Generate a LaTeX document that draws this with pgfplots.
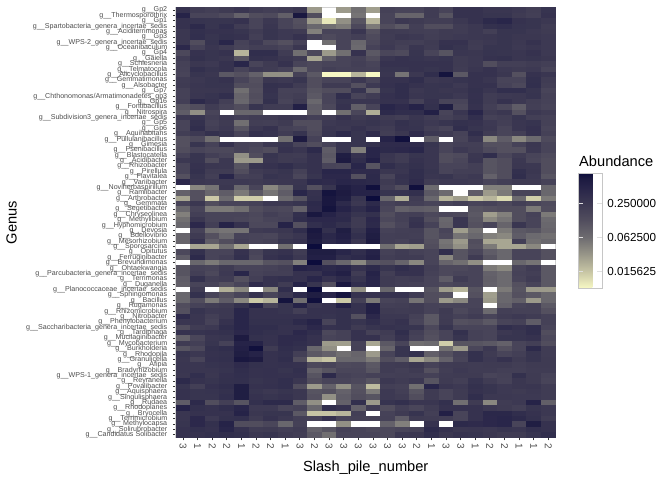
\documentclass[border=0pt]{standalone}
\usepackage{fontspec}
\setmainfont{Liberation Sans}
\usepackage{pgfplots}
\usepackage{pgfplotstable}
\pgfplotsset{compat=1.18}
\definecolor{axtext}{HTML}{4D4D4D}
\def\g{g\_\_}
\pgfdeclareplotmark{cell}{%
  \pgfpathrectangle{\pgfpoint{-7.4bp}{-2.78bp}}{\pgfpoint{14.8bp}{5.56bp}}\pgfusepathqfill}
% abundance x 1000, one row per genus, one column per sample; nan = empty tile
\pgfplotstableread[header=false]{
300 220 200 230 270 220 200 220 260 30 nan 30 60 28 190 170 170 220 170 300 300 270 270 240 210 290
500 170 170 140 80 130 140 85 700 130 nan nan 55 nan 170 75 75 220 110 300 300 280 280 230 200 300
300 290 280 280 300 170 250 170 120 30 10 35 110 20 170 250 230 210 210 250 300 400 450 300 280 250
300 400 280 340 220 170 270 170 130 70 60 50 150 50 130 100 200 130 130 220 250 320 340 290 280 220
260 330 300 300 280 220 280 240 230 45 170 170 270 120 230 220 210 200 230 220 250 200 280 280 250 230
260 340 280 320 300 200 280 240 300 180 140 170 200 140 220 260 240 210 230 240 250 260 280 260 260 240
260 130 290 450 180 240 150 120 180 nan 60 170 70 150 230 210 200 230 300 300 230 250 280 250 300 240
420 180 270 220 170 200 200 170 260 nan nan 170 65 180 240 190 270 220 320 280 220 280 280 240 270 240
150 300 280 300 20 350 350 220 60 150 30 60 300 100 160 140 280 170 110 270 260 290 280 270 300 240
220 320 280 260 110 320 300 260 230 25 90 170 190 130 270 300 290 270 290 230 250 300 320 270 280 260
190 260 240 300 450 170 230 300 170 150 170 170 200 170 300 300 300 300 300 230 250 130 200 200 220 200
180 330 280 300 170 240 220 180 70 150 200 180 190 180 280 280 300 280 300 220 270 300 240 230 240 170
170 280 260 100 120 80 35 35 190 100 8 8 20 8 270 55 250 350 750 100 300 300 260 120 300 270
220 250 280 300 170 120 260 240 280 130 170 170 250 170 300 300 350 250 270 290 300 270 170 170 330 220
230 270 280 280 130 130 320 300 220 130 230 230 120 240 310 350 300 280 290 240 300 300 180 150 340 210
190 260 260 270 60 120 300 180 180 110 130 130 290 80 280 350 250 280 260 270 320 270 340 340 280 170
190 270 290 340 75 130 290 190 210 100 170 350 170 220 310 350 270 280 280 240 310 220 240 250 290 190
200 400 300 200 70 120 320 170 230 70 170 280 270 270 300 300 190 300 170 170 320 220 300 250 210 180
110 130 220 170 130 280 220 220 550 90 150 300 85 170 450 380 500 320 600 150 300 200 150 90 200 170
90 35 170 nan 70 70 nan nan nan 85 nan 60 160 22 400 350 350 550 170 270 450 230 260 120 250 220
250 280 200 240 200 220 230 260 240 200 220 300 230 260 230 210 270 220 190 230 340 190 210 280 200 190
170 320 180 230 60 210 200 230 130 130 240 270 260 280 250 320 280 240 280 320 300 240 200 270 290 190
170 350 200 240 110 250 300 190 170 130 270 250 300 240 220 300 290 210 170 350 280 250 170 270 310 170
210 240 320 280 170 320 290 220 290 140 280 400 280 380 210 260 380 250 230 180 350 220 170 200 300 190
120 140 60 nan nan nan nan 60 650 180 nan nan 280 nan 500 800 nan 90 nan 170 270 40 90 40 65 140
120 280 180 300 180 170 260 280 170 130 180 280 280 320 380 380 380 280 170 200 200 120 120 180 260 170
130 170 150 150 180 150 130 300 270 400 90 280 45 450 400 420 450 270 170 240 210 140 120 120 250 170
180 280 200 170 35 130 280 230 220 300 100 600 300 450 270 220 280 270 130 140 260 350 160 220 170 140
250 280 130 250 30 30 270 230 240 300 90 650 350 550 260 220 300 270 130 160 270 110 130 250 160 130
170 300 260 250 110 280 300 350 280 300 170 160 450 110 350 280 320 270 170 170 200 110 130 260 250 130
170 320 220 220 130 220 250 280 190 300 450 450 380 380 260 270 350 280 170 200 200 110 130 330 260 130
120 280 200 450 190 200 290 270 160 280 420 420 120 400 170 300 350 270 280 220 240 80 130 350 240 110
420 260 240 240 240 230 250 260 270 400 380 450 430 400 230 290 380 220 240 240 230 170 200 230 230 180
nan 40 55 260 70 170 40 70 280 120 280 600 500 800 200 130 800 65 nan nan nan 45 45 nan nan 70
80 120 70 90 50 100 55 90 450 300 750 650 500 500 290 290 330 100 65 nan 90 30 50 170 170 70
25 120 15 65 14 14 nan 65 110 320 700 600 280 900 70 22 220 70 20 28 15 20 12 65 14 50
170 260 130 170 170 190 250 250 280 400 700 400 250 400 180 210 200 170 170 200 170 180 150 200 170 140
70 170 50 50 60 130 160 150 80 380 750 500 350 500 160 80 90 85 nan nan 110 120 130 130 50 130
45 200 170 170 170 150 200 170 330 700 500 380 280 320 130 190 200 150 160 150 100 28 45 130 180 50
60 260 170 170 160 140 170 180 350 420 420 400 230 420 150 190 280 130 70 270 110 40 55 130 170 65
70 420 200 500 300 150 150 500 120 340 400 320 230 400 120 170 300 180 75 270 120 170 75 270 170 70
nan 180 60 55 55 230 240 260 350 700 320 600 280 550 180 200 210 110 170 28 60 nan 50 100 110 75
75 230 120 70 180 170 160 230 270 650 430 550 330 600 200 210 200 110 150 55 70 45 40 90 65 60
75 300 90 130 200 170 190 280 300 600 400 500 270 650 200 180 220 120 55 30 130 25 25 200 60 70
nan 25 25 60 25 nan nan 60 nan 950 nan nan nan nan 60 25 28 130 60 35 120 50 25 25 40 nan
150 320 170 170 300 170 280 300 220 600 600 450 350 500 190 220 190 170 350 110 160 90 70 170 170 120
90 400 170 200 330 150 300 350 250 550 550 350 400 550 210 230 220 170 40 110 230 110 70 170 170 120
nan 70 50 70 70 70 110 120 45 950 120 70 40 110 120 75 40 170 75 60 35 nan nan 70 55 nan
110 180 170 230 170 170 180 210 500 450 400 450 300 400 280 350 300 200 150 150 170 50 40 170 220 100
110 200 150 240 450 180 200 200 300 300 450 550 220 500 210 300 300 190 150 170 170 80 65 180 200 100
90 320 200 220 120 200 300 330 300 450 300 400 280 450 230 210 220 170 90 220 170 85 65 170 220 100
85 170 170 120 170 380 300 220 500 280 120 700 350 450 230 200 190 170 150 170 170 80 65 120 170 100
nan 220 nan 22 40 nan 40 350 nan 900 nan nan 35 nan 70 nan nan 110 28 20 110 nan 50 110 30 30
70 320 170 120 170 300 170 250 400 600 450 750 300 300 300 300 230 130 120 nan 120 28 70 120 100 70
70 130 50 90 40 15 20 750 60 800 nan 15 190 50 170 190 55 130 30 40 170 30 70 85 30 70
130 180 210 230 320 500 170 280 500 270 300 550 300 550 200 210 230 180 170 170 170 nan 80 170 190 100
120 290 240 250 450 300 300 280 200 300 300 320 300 550 230 220 230 180 230 150 190 65 200 190 190 120
380 270 200 250 450 300 300 300 300 300 290 320 120 420 250 250 190 100 220 190 220 170 220 240 220 190
270 270 180 300 450 320 320 320 400 500 170 320 280 350 270 300 170 100 230 120 130 100 170 190 90 190
130 220 240 350 450 350 350 300 300 420 300 320 230 280 300 290 280 150 280 170 170 170 350 300 350 170
300 290 300 320 420 350 320 300 420 350 150 190 300 190 220 350 200 130 170 320 190 170 250 280 350 130
80 160 270 280 650 320 300 380 380 300 170 190 300 300 200 300 180 120 170 280 190 170 280 280 300 150
230 200 280 180 500 500 300 380 350 300 30 28 180 25 100 170 60 65 14 110 110 100 80 170 200 130
110 150 320 350 550 800 230 350 320 70 35 nan 190 nan 75 280 nan nan 60 30 160 250 120 170 400 220
280 250 300 320 600 500 300 330 200 100 80 60 75 30 170 280 320 85 120 180 320 230 170 200 280 220
260 170 310 330 700 650 300 350 130 20 16 70 70 50 130 90 25 40 80 170 320 240 300 230 280 230
270 270 290 300 380 320 300 310 300 150 170 140 150 100 220 230 260 180 220 230 220 230 230 210 230 230
270 270 270 290 350 300 310 280 330 80 110 160 160 110 220 200 230 120 210 240 220 220 200 200 220 220
260 340 260 310 340 300 310 300 310 110 400 190 170 190 200 210 200 190 220 230 230 170 190 320 230 180
400 300 280 320 330 280 300 340 260 130 170 170 150 110 250 220 250 110 230 200 290 220 180 260 230 170
280 200 310 350 600 300 310 340 130 30 80 35 110 18 200 190 60 450 270 240 320 280 240 260 270 220
300 280 290 320 600 280 250 280 260 110 120 80 120 50 240 200 110 230 170 230 300 280 240 230 250 220
300 280 280 340 600 300 280 300 260 120 35 90 130 110 240 220 130 230 170 230 350 250 250 240 240 220
90 400 130 200 110 330 400 400 90 35 nan 80 330 30 290 330 270 270 330 60 230 40 220 240 500 85
500 330 300 350 450 240 240 170 190 70 350 300 80 220 130 200 160 220 300 300 300 250 230 200 280 250
270 300 300 300 500 260 280 280 100 16 16 20 200 nan 180 230 290 200 550 170 300 430 430 350 300 250
270 420 240 320 330 230 300 250 200 190 300 170 190 190 190 90 230 220 210 170 300 420 450 400 320 220
280 420 320 500 130 130 160 70 190 nan nan 35 nan nan 80 45 nan 300 nan 400 380 420 450 170 600 300
300 330 300 450 300 220 230 200 220 80 110 190 170 150 150 170 180 400 300 260 270 250 280 270 330 300
300 300 330 350 330 260 280 230 210 100 60 170 170 170 150 250 260 350 260 300 290 260 230 230 290 350
}\abund
\begin{document}
\begin{tikzpicture}[x=1bp,y=1bp]
\useasboundingbox (0,0) rectangle (672,480);
\begin{axis}[
    at={(175.7bp,42.5bp)}, anchor=south west,
    scale only axis,
    width=380bp, height=430bp,
    xmin=-0.5, xmax=25.5, ymin=-0.5, ymax=79.5,
    y dir=reverse,
    axis on top,
    axis line style={draw=gray!35,line width=0.7bp},
    tick align=outside, tick pos=left,
    major tick length=2.8bp,
    tick style={draw=black!80,line width=1bp},
    xtick={0,...,25},
    xticklabels={3,1,2,2,1,2,2,1,3,2,3,3,3,3,3,3,2,1,3,3,1,2,2,1,1,2},
    xticklabel style={rotate=-90,anchor=west,inner sep=0pt,xshift=3bp,text=axtext,font=\fontsize{10}{10}\selectfont},
    ytick={0,...,79},
    yticklabels={\g Gp2,\g Thermosporothrix,\g Gp1,\g Spartobacteria\_genera\_incertae\_sedis,\g Aciditerrimonas,\g Gp3,\g WPS-2\_genera\_incertae\_sedis,\g Oceanibaculum,\g Gp4,\g Gaiella,\g Schlesneria,\g Telmatocola,\g Alicyclobacillus,\g Gemmatimonas,\g Alsobacter,\g Gp7,\g Chthonomonas/Armatimonadetes\_gp3,\g Gp16,\g Fontibacillus,\g Nitrospira,\g Subdivision3\_genera\_incertae\_sedis,\g Gp5,\g Gp6,\g Aquihabitans,\g Pullulanibacillus,\g Gimesia,\g Psenibacillus,\g Blastocatella,\g Acidibacter,\g Rhizobacter,\g Pirellula,\g Flavitalea,\g Variibacter,\g Noviherbaspirillum,\g Ramlibacter,\g Arthrobacter,\g Gemmata,\g Segetibacter,\g Chryseolinea,\g Methylibium,\g Hyphomicrobium,\g Devosia,\g Bdellovibrio,\g Mesorhizobium,\g Sporosarcina,\g Opitutus,\g Ferruginibacter,\g Brevundimonas,\g Ohtaekwangia,\g Parcubacteria\_genera\_incertae\_sedis,\g Terrimonas,\g Duganella,\g Planococcaceae\_incertae\_sedis,\g Sphingomonas,\g Bacillus,\g Rugamonas,\g Rhizomicrobium,\g Nitrobacter,\g Phenylobacterium,\g Saccharibacteria\_genera\_incertae\_sedis,\g Tardiphaga,\g Mucilaginibacter,\g Mycobacterium,\g Burkholderia,\g Rhodopila,\g Granulicella,\g Afipia,\g Bradyrhizobium,\g WPS-1\_genera\_incertae\_sedis,\g Reyranella,\g Povalibacter,\g Aquisphaera,\g Singulisphaera,\g Rudaea,\g Rhodoplanes,\g Bryocella,\g Terrimicrobium,\g Methylocapsa,\g Solirubrobacter,\g Candidatus Solibacter},
    yticklabel style={anchor=east,inner sep=0pt,xshift=-5.5bp,text=axtext,font=\fontsize{7.15}{7}\selectfont},
    xlabel={Slash\_pile\_number},
    ylabel={Genus},
    every axis x label/.style={at={(axis description cs:0.5,0)},anchor=north,yshift=-20bp,font=\fontsize{14.7}{15}\selectfont},
    every axis y label/.style={at={(axis description cs:0,0.5)},rotate=90,anchor=south,yshift=155.5bp,font=\fontsize{14.7}{15}\selectfont},
    colormap={abund}{rgb255(0cm)=(247,248,196); rgb255(0.95cm)=(200,198,165); rgb255(1.95cm)=(153,151,137); rgb255(2.95cm)=(110,108,112); rgb255(3.95cm)=(82,78,94); rgb255(4.95cm)=(60,56,82); rgb255(5.95cm)=(38,35,72); rgb255(6.4cm)=(28,26,64); rgb255(6.72cm)=(12,12,60)},
    point meta min=-6.95, point meta max=-0.23,
    colorbar,
    colorbar style={
      at={(parent axis.south east)}, anchor=south west,
      xshift=14bp, yshift=149.5bp,
      width=23.5bp, height=115bp,
      ytick={-6,-4,-2},
      yticklabels={0.015625,0.062500,0.250000},
      ytick align=inside,
      ytick pos=both,
      yticklabel pos=right,
      major tick length=4.6bp,
      tick style={draw=white!75!gray,line width=0.7bp},
      axis line style={draw=gray!45,line width=0.4bp},
      yticklabel style={text=black,inner sep=0pt,xshift=5.5bp,font=\fontsize{11.7}{12}\selectfont},
    },
  ]
  \pgfplotsinvokeforeach{0,...,25}{
    \addplot[scatter,only marks,mark=cell,scatter src=explicit]
      table[x expr=#1,y expr={\coordindex+\thisrowno{#1}/\thisrowno{#1}-1},meta expr={ln(\thisrowno{#1}/1000)/ln(2)}] \abund;
  }
\end{axis}
\node[anchor=base west,inner sep=0pt,font=\fontsize{14.7}{15}\selectfont] at (579,313) {Abundance};
\end{tikzpicture}
\end{document}
